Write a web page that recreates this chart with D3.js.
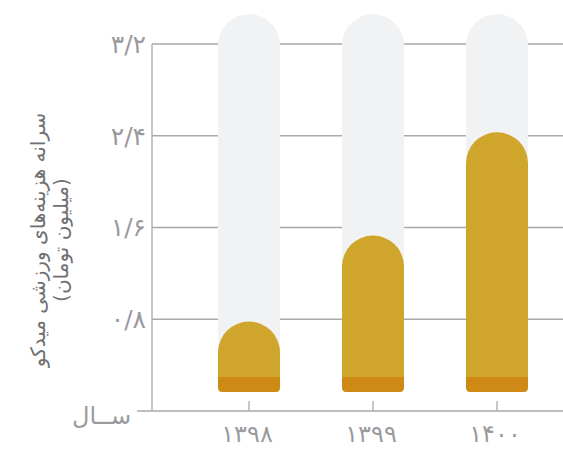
<!DOCTYPE html>
<html lang="fa">
<head>
<meta charset="utf-8">
<script src="https://cdn.jsdelivr.net/npm/d3@7"></script>
<style>
  html, body { margin: 0; padding: 0; background: #fff; }
  svg { display: block; font-family: "DejaVu Sans", sans-serif; }
</style>
</head>
<body>
<svg id="chart" width="563" height="450"></svg>
<script>
// Per-capita sports spending (million toman) by year
const years = ["۱۳۹۸", "۱۳۹۹", "۱۴۰۰"];
const values = [0.78, 1.53, 2.43];
const trackMax = 3.46;
const yTickValues = [0.8, 1.6, 2.4, 3.2];
const yTickLabels = ["۰/۸", "۱/۶", "۲/۴", "۳/۲"];
const titleLines = ["سرانه هزینه‌های ورزشی میدکو", "(میلیون تومان)"];
const xAxisName = "ســال";

const svg = d3.select("#chart");
const W = 563;
const axisX = 152;
const baseY = 411;
const barBase = 392;   // bars sit slightly above the baseline
const bandH = 15;      // darker foot band

const y = d3.scaleLinear().domain([0, 3.2]).range([baseY, 44]);
const x = d3.scaleBand().domain(years).range([156, 590]).paddingInner(0.5).paddingOuter(0.5);

const gray = "#a9a9ad";
const textGray = "#9a9a9e";

// grid lines
svg.append("g").selectAll("line").data(yTickValues).join("line")
  .attr("x1", axisX).attr("x2", W)
  .attr("y1", d => y(d)).attr("y2", d => y(d))
  .attr("stroke", gray).attr("stroke-width", 1.3);

// y tick labels
svg.append("g").selectAll("text").data(yTickValues).join("text")
  .attr("x", axisX - 6).attr("y", d => y(d))
  .attr("dy", "0.35em")
  .attr("text-anchor", "end")
  .attr("font-size", 25)
  .attr("fill", textGray)
  .text((d, i) => yTickLabels[i]);

// rounded-top path: straight sides, semicircular cap, small bottom corners
function pill(x0, w, top, bottom, rb) {
  const r = w / 2;
  const p = d3.path();
  const capY = Math.min(top + r, bottom - rb);
  p.moveTo(x0, capY);
  p.arc(x0 + r, capY, r, Math.PI, 0, false);
  p.lineTo(x0 + w, bottom - rb);
  p.quadraticCurveTo(x0 + w, bottom, x0 + w - rb, bottom);
  p.lineTo(x0 + rb, bottom);
  p.quadraticCurveTo(x0, bottom, x0, bottom - rb);
  p.closePath();
  return p.toString();
}

const bars = svg.append("g").selectAll("g").data(years).join("g");

// background track
bars.append("path")
  .attr("d", d => pill(x(d), x.bandwidth(), y(trackMax), barBase, 0))
  .attr("fill", "#f1f2f4");

// value bar
bars.append("path")
  .attr("d", (d, i) => pill(x(d), x.bandwidth(), y(values[i]), barBase, 5))
  .attr("fill", "#d0a52c");

// darker foot band, clipped to the bar outline
const defs = svg.append("defs");
years.forEach((d, i) => {
  defs.append("clipPath").attr("id", "c" + i)
    .append("path").attr("d", pill(x(d), x.bandwidth(), y(values[i]), barBase, 5));
});
bars.append("rect")
  .attr("x", d => x(d)).attr("width", x.bandwidth())
  .attr("y", barBase - bandH).attr("height", bandH)
  .attr("clip-path", (d, i) => `url(#c${i})`)
  .attr("fill", "#cf8a15");

// axes
svg.append("line")
  .attr("x1", axisX).attr("x2", axisX)
  .attr("y1", y(3.2)).attr("y2", baseY)
  .attr("stroke", gray).attr("stroke-width", 1.3);
svg.append("line")
  .attr("x1", 137).attr("x2", W)
  .attr("y1", baseY).attr("y2", baseY)
  .attr("stroke", gray).attr("stroke-width", 1.3);

// x ticks (pointing up) and labels
svg.append("g").selectAll("line").data(years).join("line")
  .attr("x1", d => x(d) + x.bandwidth() / 2).attr("x2", d => x(d) + x.bandwidth() / 2)
  .attr("y1", baseY - 10).attr("y2", baseY)
  .attr("stroke", gray).attr("stroke-width", 1.3);
svg.append("g").selectAll("text").data(years).join("text")
  .attr("x", d => x(d) + x.bandwidth() / 2 - 2)
  .attr("y", 442)
  .attr("text-anchor", "middle")
  .attr("font-size", 24)
  .attr("fill", textGray)
  .text(d => d);

// x axis name
svg.append("text")
  .attr("x", 131).attr("y", 416).attr("dy", "0.35em")
  .attr("text-anchor", "end")
  .attr("font-size", 24)
  .attr("fill", textGray)
  .text(xAxisName);

// y axis title
const t = svg.append("text")
  .attr("transform", "translate(38,240) rotate(-90)")
  .attr("text-anchor", "middle")
  .attr("font-size", 20)
  .attr("fill", "#6f6f73");
titleLines.forEach((s, i) => {
  t.append("tspan").attr("x", 0).attr("dy", i === 0 ? "0.35em" : "1.15em").text(s);
});
</script>
</body>
</html>
